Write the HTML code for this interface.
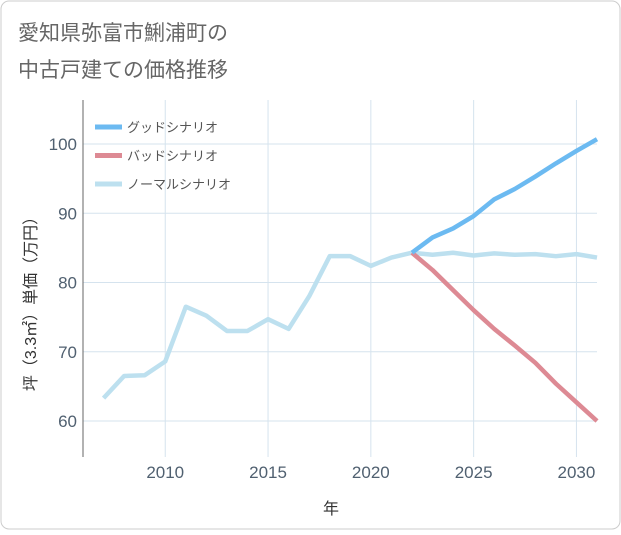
<!DOCTYPE html>
<html><head><meta charset="utf-8"><style>
body{margin:0;background:#fff;}
.wrap{position:relative;width:621px;height:530px;font-family:"Liberation Sans","Noto Sans CJK JP",sans-serif;}
svg text{font-family:"Liberation Sans","Noto Sans CJK JP",sans-serif;}
</style></head><body>
<div class="wrap">
<svg id="c" width="621" height="530">
<rect x="1" y="1" width="619" height="528" rx="8" fill="#fff" stroke="#ccc"/>
<text x="18" y="40" font-size="21" fill="#666">愛知県弥富市鯏浦町の</text>
<text x="18" y="77" font-size="21" fill="#666">中古戸建ての価格推移</text>
<text x="331" y="514" font-size="16" fill="#333" text-anchor="middle">年</text>
<text transform="translate(36,300) rotate(-90)" font-size="16" fill="#333" text-anchor="middle">坪（3.3㎡）単価（万円）</text>
<g id="grid"></g><g id="lines"></g><g id="legend"></g>
</svg>
</div>
<script>
const years=[2007,2008,2009,2010,2011,2012,2013,2014,2015,2016,2017,2018,2019,2020,2021,2022,2023,2024,2025,2026,2027,2028,2029,2030,2031];
const normal=[63.3,66.5,66.6,68.6,76.5,75.2,73,73,74.7,73.3,78,83.8,83.8,82.4,83.6,84.3,84,84.3,83.9,84.2,84,84.1,83.8,84.1,83.6];
const goodYears=[2022,2023,2024,2025,2026,2027,2028,2029,2030,2031];
const good=[84.3,86.5,87.8,89.6,92,93.5,95.3,97.2,99,100.7];
const bad=[84.3,81.8,78.9,76,73.3,70.9,68.4,65.4,62.7,60];
const xTicks=[2010,2015,2020,2025,2030];
const yTicks=[60,70,80,90,100];
const L=83,R=597,T=100,B=457;
const x=v=>L+(v-2006)/(2031-2006)*(R-L);
const y=v=>421-(v-60)/(100-60)*(421-144);
const NS="http://www.w3.org/2000/svg";
function mk(t,a,p){const e=document.createElementNS(NS,t);for(const k in a)e.setAttribute(k,a[k]);p.appendChild(e);return e;}
const g=document.getElementById('grid');
xTicks.forEach(v=>{
 const l=mk('line',{x1:x(v),x2:x(v),y1:T,y2:B,stroke:'#d5e3ee','stroke-width':1},g);
 
 
 const t=mk('text',{x:x(v),y:478,'font-size':17,fill:'#506070','text-anchor':'middle'},g);t.textContent=v;
 
 
});
yTicks.forEach(v=>{
 const l=mk('line',{x1:L,x2:R,y1:y(v),y2:y(v),stroke:'#d5e3ee','stroke-width':1},g);
 
 
 const t=mk('text',{x:77,y:y(v)+6,'font-size':17,fill:'#506070','text-anchor':'end'},g);t.textContent=v;
 
 
});
const ax=mk('line',{x1:L,x2:L,y1:T,y2:B,stroke:'#666','stroke-width':1},g);


const ln=document.getElementById('lines');
function series(xs,ys,c,name){
 const p=mk('polyline',{points:xs.map((v,i)=>x(v)+','+y(ys[i])).join(' '),fill:'none',stroke:c,'stroke-width':4.5,'stroke-linejoin':'round'},ln);
 
 
}
series(years,normal,'#bde0ef','normal-scenario-line');
series(goodYears,bad,'#dd8a94','bad-scenario-line');
series(goodYears,good,'#6cbaf1','good-scenario-line');
const lg=document.getElementById('legend');
[['グッドシナリオ','#6cbaf1','legend-good'],['バッドシナリオ','#dd8a94','legend-bad'],['ノーマルシナリオ','#bde0ef','legend-normal']].forEach((d,i)=>{
 const yy=127+i*28.5;
 const gg=mk('g',{},lg);
 
 
 mk('line',{x1:95,x2:122,y1:yy,y2:yy,stroke:d[1],'stroke-width':5},gg);
 const t=mk('text',{x:127,y:yy+5,'font-size':13,fill:'#555'},gg);t.textContent=d[0];
});
</script>
</body></html>
